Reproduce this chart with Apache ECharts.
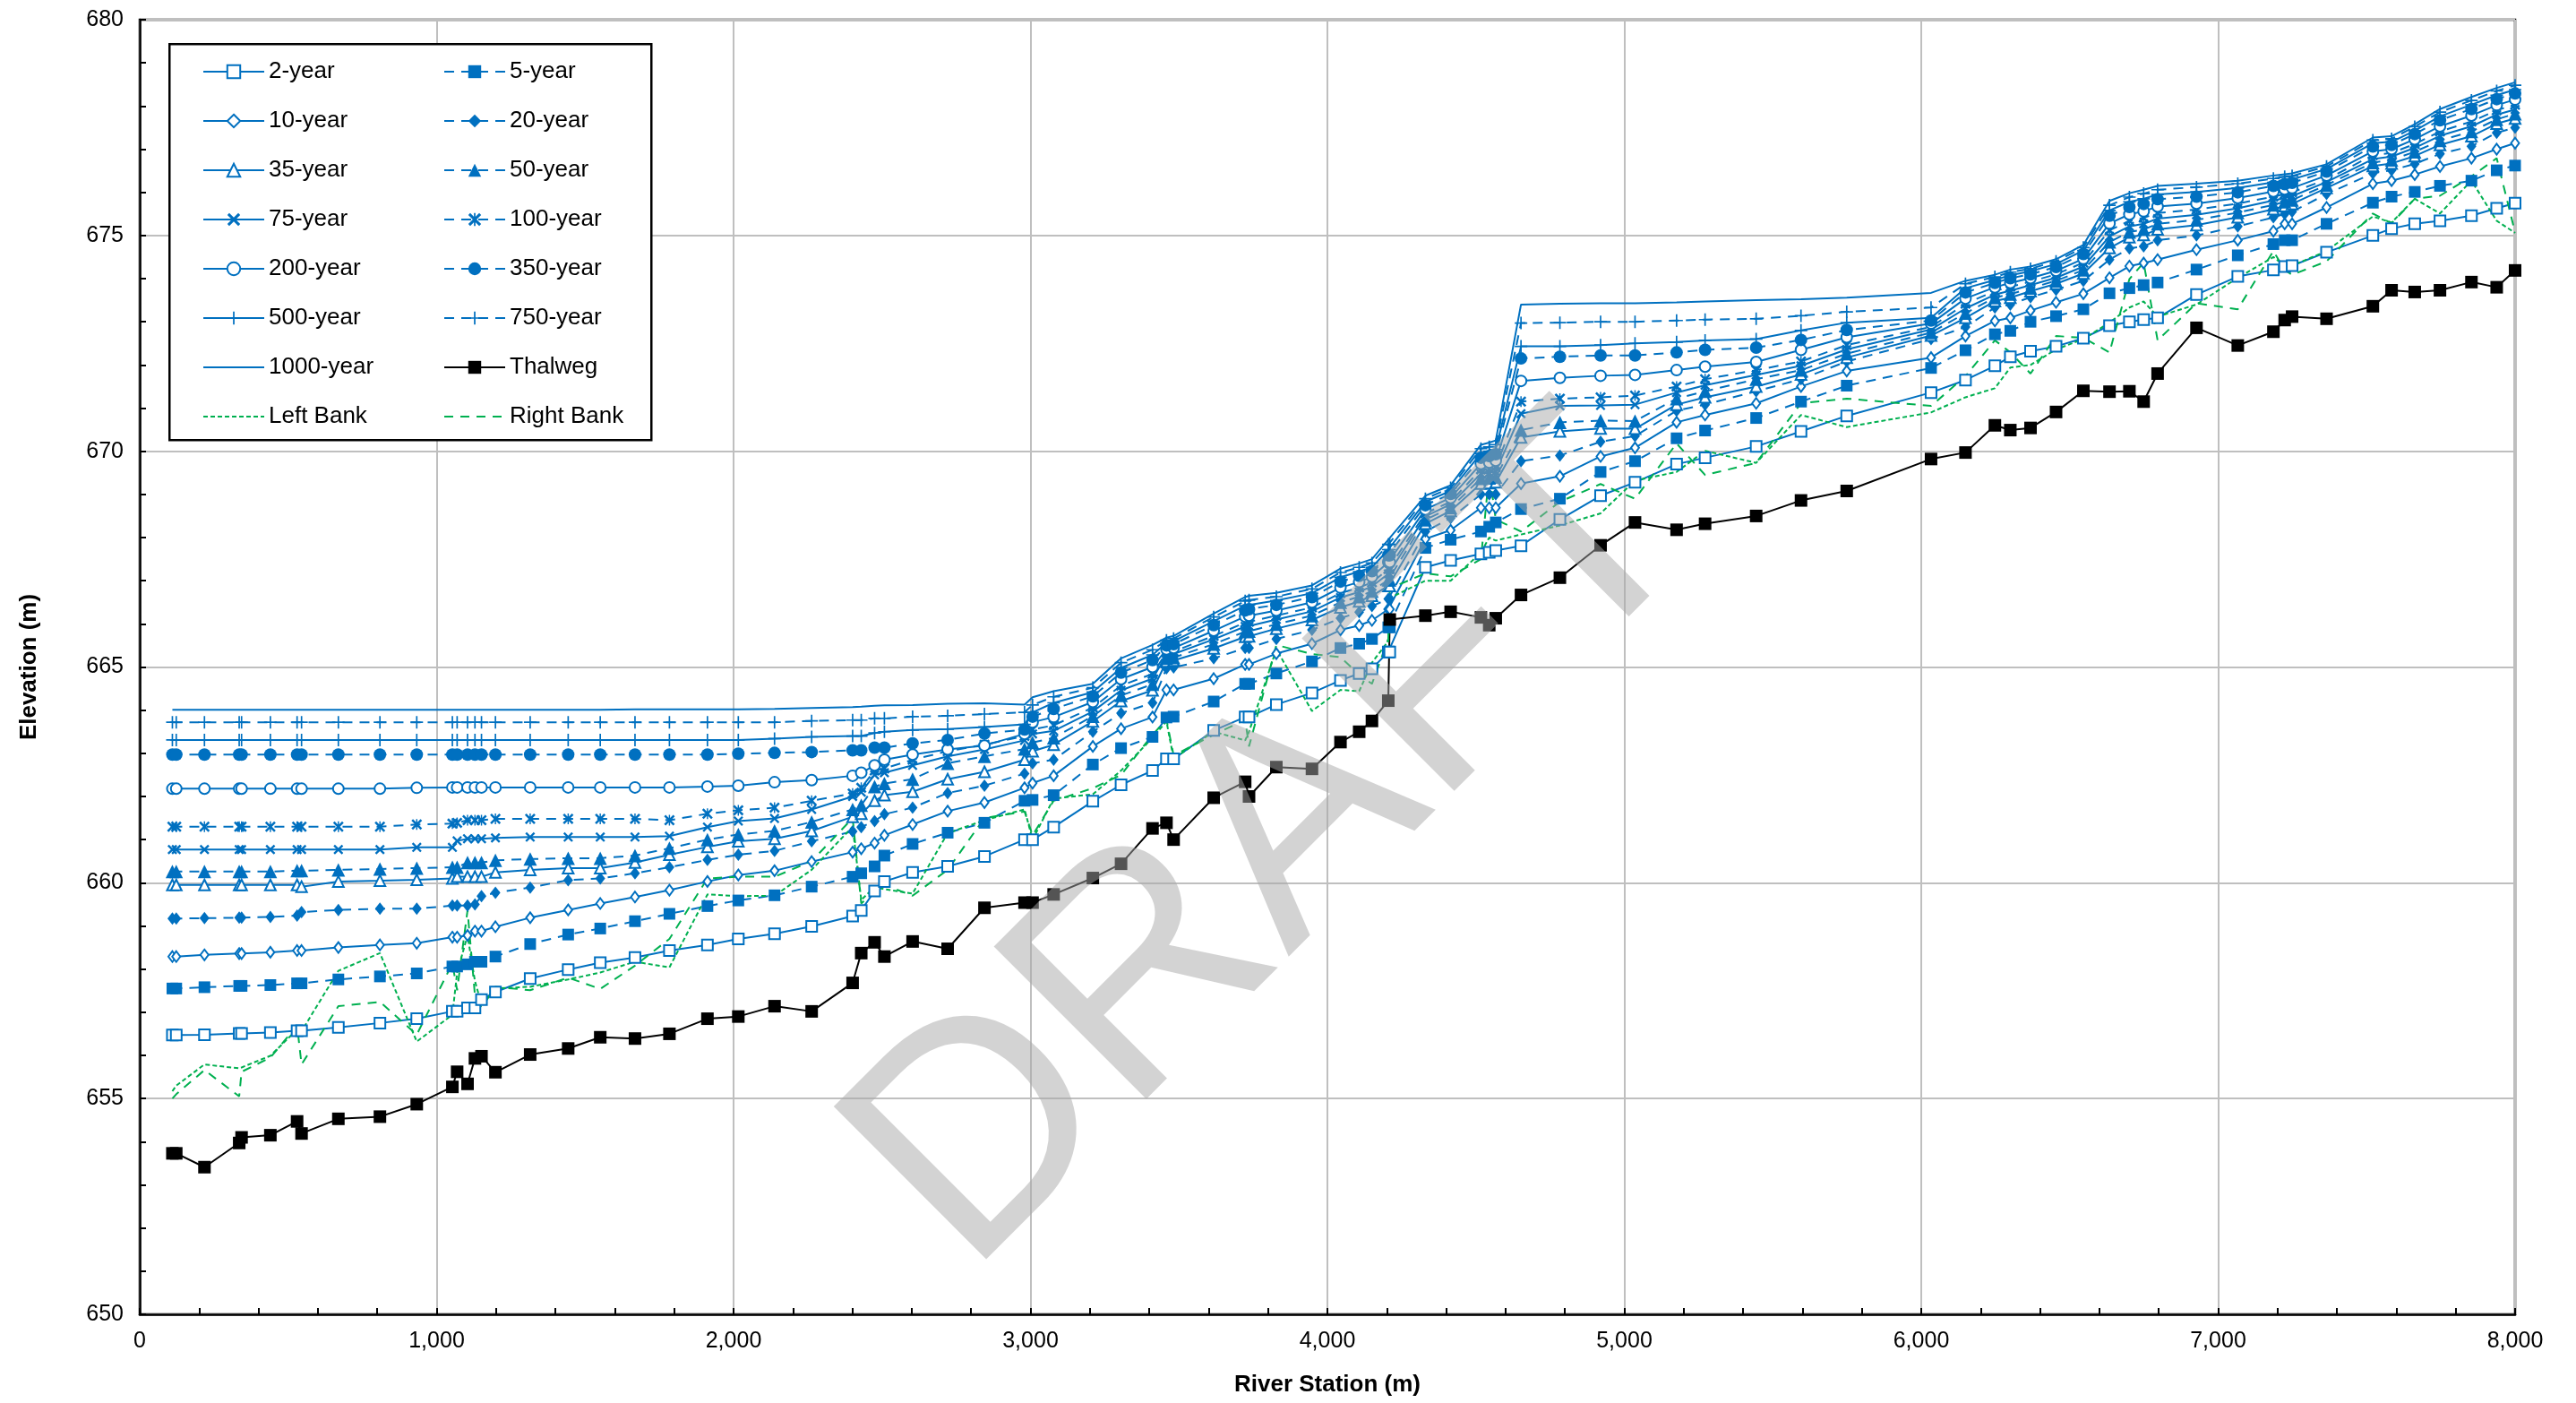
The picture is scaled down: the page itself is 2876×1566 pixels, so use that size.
<!DOCTYPE html>
<html><head><meta charset="utf-8">
<script src="https://cdn.jsdelivr.net/npm/echarts@6/dist/echarts.min.js"></script>
<style>html,body{margin:0;padding:0;background:#fff}#c{width:2876px;height:1566px}</style>
</head><body><div id="c"></div>
<script>
// ---------- DATA ----------
const xTickValues = [0,1000,2000,3000,4000,5000,6000,7000,8000];
const yTickValues = [650,655,660,665,670,675,680];

const stations = [110,123,218,335,343,440,530,545,669,809,933,1053,1069,1104,1129,1151,1198,1315,1443,1551,1668,1784,1912,2016,
2138,2263,2401,2430,2475,2508,2603,2721,2845,2980,3007,
3078,3210,3305,3411,3458,3482,3617,3723,3736,3828,3948,4044,4107,4150,4205,4210,4330,
4415,4517,4545,4567,4652,4783,4920,5036,5176,5272,5444,5595,5749,
6033,6149,6248,6300,6368,6454,6546,6634,6701,6749,6796,6927,7066,7186,7224,7249,7365,7521,7584,7662,7747,7853,7938,8000];

const thalweg = [653.73,653.73,653.41,653.97,654.10,654.15,654.47,654.19,654.53,654.58,654.87,655.27,655.62,655.34,655.93,655.98,655.61,656.02,656.16,656.42,656.39,656.50,656.85,656.90,
657.14,657.02,657.68,658.37,658.62,658.29,658.64,658.47,659.42,659.54,659.54,
659.73,660.11,660.44,661.26,661.39,661.00,661.97,662.34,662.00,662.68,662.64,663.26,663.50,663.75,664.22,666.10,666.19,
666.28,666.15,665.97,666.13,666.67,667.07,667.82,668.35,668.18,668.32,668.50,668.86,669.08,
669.82,669.97,670.60,670.49,670.54,670.91,671.40,671.38,671.39,671.15,671.80,672.86,672.45,672.77,673.04,673.12,673.07,673.36,673.73,673.69,673.73,673.92,673.80,674.19];

const y2 = [656.47,656.47,656.48,656.51,656.51,656.53,656.57,656.57,656.65,656.75,656.85,657.02,657.02,657.10,657.10,657.29,657.47,657.78,657.99,658.15,658.27,658.43,658.56,658.70,
658.82,658.99,659.23,659.36,659.81,660.03,660.24,660.38,660.61,661.00,661.00,
661.29,661.89,662.27,662.60,662.87,662.87,663.53,663.84,663.84,664.13,664.40,664.69,664.85,664.96,665.35,665.35,667.31,
667.47,667.62,667.66,667.70,667.81,668.42,668.97,669.28,669.70,669.85,670.11,670.46,670.82,
671.36,671.65,671.98,672.19,672.32,672.43,672.62,672.91,673.00,673.05,673.09,673.63,674.05,674.20,674.28,674.30,674.61,675.00,675.16,675.27,675.34,675.46,675.63,675.75];

const y5 = [657.55,657.55,657.58,657.61,657.61,657.63,657.67,657.67,657.76,657.83,657.90,658.06,658.06,658.11,658.17,658.17,658.29,658.58,658.80,658.94,659.11,659.28,659.46,659.59,
659.71,659.91,660.14,660.22,660.38,660.63,660.90,661.16,661.39,661.90,661.92,
662.03,662.74,663.12,663.38,663.83,663.85,664.20,664.61,664.61,664.85,665.13,665.44,665.54,665.65,665.92,665.92,667.76,
667.95,668.14,668.25,668.35,668.66,668.90,669.52,669.77,670.30,670.48,670.77,671.15,671.52,
671.93,672.34,672.71,672.79,673.00,673.13,673.29,673.66,673.78,673.85,673.91,674.21,674.54,674.80,674.89,674.89,675.27,675.76,675.90,676.01,676.15,676.27,676.51,676.62];

const y10 = [658.29,658.29,658.33,658.36,658.36,658.39,658.43,658.43,658.50,658.56,658.60,658.74,658.74,658.78,658.88,658.88,658.98,659.19,659.37,659.52,659.67,659.83,660.03,660.18,
660.28,660.49,660.71,660.79,660.92,661.10,661.35,661.66,661.86,662.20,662.31,
662.48,663.16,663.57,663.84,664.47,664.47,664.73,665.06,665.06,665.31,665.54,665.86,665.96,666.08,666.34,666.34,667.97,
668.17,668.69,668.69,668.69,669.25,669.42,669.88,670.08,670.67,670.84,671.11,671.50,671.86,
672.17,672.67,673.02,673.09,673.26,673.45,673.65,674.02,674.29,674.36,674.44,674.67,674.89,675.10,675.27,675.27,675.65,676.20,676.27,676.41,676.60,676.79,677.00,677.14];

const y20 = [659.17,659.17,659.18,659.19,659.19,659.21,659.24,659.32,659.37,659.40,659.40,659.47,659.47,659.47,659.50,659.69,659.77,659.89,660.06,660.10,660.22,660.36,660.53,660.65,
660.74,660.96,661.19,661.29,661.43,661.59,661.74,662.08,662.25,662.53,662.77,
662.85,663.50,663.93,664.17,664.97,664.99,665.20,665.44,665.44,665.65,665.86,666.13,666.27,666.41,666.58,666.58,668.14,
668.45,669.00,669.00,669.00,669.77,669.90,670.22,670.35,670.94,671.08,671.39,671.67,672.08,
672.60,672.88,673.33,673.40,673.57,673.74,673.95,674.44,674.70,674.75,674.89,675.00,675.21,675.42,675.50,675.55,675.96,676.44,676.51,676.66,676.89,677.07,677.38,677.50];

const y35 = [659.95,659.95,659.95,659.95,659.95,659.95,659.95,659.91,660.03,660.05,660.07,660.10,660.14,660.14,660.14,660.14,660.24,660.30,660.34,660.34,660.47,660.65,660.83,660.96,
661.02,661.20,661.53,661.60,661.90,662.03,662.11,662.40,662.57,662.85,663.05,
663.20,663.74,664.21,664.46,665.13,665.15,665.43,665.70,665.71,665.89,666.09,666.38,666.52,666.65,666.88,666.88,668.32,
668.62,669.25,669.26,669.28,670.32,670.46,670.53,670.52,671.08,671.25,671.50,671.78,672.17,
672.68,673.09,673.48,673.56,673.71,673.88,674.12,674.71,674.96,675.01,675.14,675.24,675.42,675.61,675.68,675.73,676.10,676.61,676.67,676.84,677.10,677.30,677.59,677.71];

const y50 = [660.26,660.26,660.26,660.26,660.26,660.26,660.28,660.28,660.30,660.32,660.34,660.36,660.36,660.47,660.47,660.47,660.52,660.55,660.57,660.57,660.63,660.80,661.00,661.12,
661.20,661.41,661.70,661.80,662.23,662.30,662.40,662.77,662.93,663.10,663.25,
663.36,663.86,664.34,664.60,665.20,665.22,665.53,665.82,665.83,665.99,666.19,666.50,666.63,666.76,667.02,667.02,668.41,
668.69,669.37,669.38,669.40,670.49,670.67,670.71,670.70,671.22,671.39,671.67,671.88,672.26,
672.75,673.20,673.56,673.64,673.78,673.95,674.20,674.85,675.08,675.14,675.27,675.36,675.53,675.71,675.78,675.82,676.17,676.69,676.75,676.94,677.20,677.41,677.69,677.82];

const y75 = [660.77,660.77,660.77,660.77,660.77,660.77,660.77,660.77,660.77,660.77,660.82,660.82,660.97,661.02,661.02,661.02,661.04,661.06,661.06,661.06,661.06,661.08,661.29,661.43,
661.49,661.70,662.00,662.10,662.50,662.55,662.72,662.93,663.09,663.30,663.45,
663.52,663.97,664.46,664.73,665.27,665.30,665.64,665.94,665.95,666.10,666.29,666.61,666.74,666.87,667.16,667.16,668.49,
668.77,669.48,669.50,669.53,670.87,671.05,671.06,671.08,671.36,671.53,671.77,671.98,672.36,
672.82,673.31,673.63,673.72,673.85,674.02,674.28,674.98,675.21,675.27,675.39,675.48,675.63,675.81,675.87,675.91,676.24,676.77,676.83,677.03,677.31,677.53,677.80,677.92];

const y100 = [661.30,661.30,661.30,661.30,661.30,661.30,661.30,661.30,661.30,661.30,661.35,661.37,661.39,661.45,661.45,661.45,661.48,661.48,661.48,661.48,661.48,661.45,661.60,661.68,
661.74,661.90,662.07,662.20,662.60,662.65,662.85,663.05,663.20,663.40,663.55,
663.65,664.06,664.57,664.84,665.33,665.36,665.72,666.03,666.05,666.19,666.38,666.71,666.84,666.96,667.27,667.27,668.56,
668.83,669.58,669.60,669.63,671.15,671.22,671.25,671.29,671.50,671.67,671.88,672.08,672.46,
672.88,673.42,673.71,673.81,673.93,674.10,674.37,675.12,675.34,675.41,675.52,675.60,675.74,675.90,675.96,676.00,676.30,676.86,676.91,677.12,677.41,677.64,677.90,678.03];

const y200 = [662.18,662.18,662.18,662.18,662.18,662.18,662.18,662.18,662.18,662.18,662.20,662.21,662.21,662.21,662.21,662.21,662.21,662.21,662.21,662.21,662.21,662.21,662.23,662.25,
662.33,662.38,662.48,662.55,662.72,662.85,662.97,663.09,663.18,663.45,663.72,
663.84,664.19,664.72,665.00,665.41,665.44,665.84,666.17,666.19,666.31,666.50,666.84,666.97,667.09,667.43,667.43,668.65,
668.92,669.71,669.74,669.78,671.63,671.70,671.75,671.77,671.88,671.96,672.07,672.35,672.64,
672.96,673.54,673.80,673.90,674.01,674.18,674.46,675.28,675.49,675.56,675.67,675.74,675.87,676.02,676.07,676.10,676.39,676.95,677.00,677.23,677.53,677.78,678.02,678.15];

const y350 = [662.97,662.97,662.97,662.97,662.97,662.97,662.97,662.97,662.97,662.97,662.97,662.97,662.97,662.97,662.97,662.97,662.97,662.97,662.97,662.97,662.97,662.97,662.97,662.99,
663.01,663.03,663.07,663.07,663.13,663.13,663.23,663.31,663.46,663.55,663.85,
664.03,664.32,664.87,665.16,665.50,665.53,665.97,666.31,666.34,666.44,666.62,666.98,667.11,667.22,667.59,667.59,668.75,
669.01,669.85,669.89,669.93,672.15,672.19,672.22,672.22,672.29,672.35,672.40,672.58,672.81,
673.03,673.68,673.90,674.01,674.10,674.27,674.57,675.46,675.66,675.73,675.84,675.90,676.00,676.15,676.19,676.22,676.48,677.06,677.10,677.35,677.67,677.93,678.16,678.29];

const y500 = [663.31,663.31,663.31,663.31,663.31,663.31,663.31,663.31,663.31,663.31,663.31,663.31,663.31,663.31,663.31,663.31,663.31,663.31,663.31,663.31,663.31,663.31,663.31,663.31,
663.34,663.38,663.40,663.40,663.47,663.50,663.54,663.56,663.61,663.67,663.95,
664.17,664.42,664.98,665.28,665.56,665.60,666.06,666.42,666.44,666.54,666.71,667.08,667.21,667.31,667.72,667.72,668.83,
669.08,669.95,670.00,670.04,672.43,672.43,672.46,672.50,672.53,672.57,672.60,672.80,672.98,
673.09,673.78,673.97,674.08,674.17,674.34,674.65,675.58,675.78,675.85,675.95,676.01,676.10,676.23,676.27,676.30,676.54,677.14,677.17,677.43,677.76,678.03,678.25,678.38];

const y750 = [663.72,663.72,663.72,663.72,663.72,663.72,663.72,663.72,663.72,663.72,663.72,663.72,663.72,663.72,663.72,663.72,663.72,663.72,663.72,663.72,663.72,663.72,663.72,663.72,
663.72,663.75,663.77,663.77,663.81,663.81,663.85,663.87,663.91,663.95,664.12,
664.31,664.52,665.10,665.40,665.62,665.66,666.16,666.53,666.55,666.63,666.81,667.19,667.31,667.41,667.84,667.84,668.90,
669.15,670.06,670.10,670.15,672.97,672.98,673.00,673.00,673.03,673.05,673.07,673.14,673.23,
673.33,673.88,674.04,674.15,674.23,674.40,674.72,675.70,675.89,675.97,676.06,676.12,676.20,676.32,676.36,676.38,676.60,677.21,677.24,677.52,677.86,678.13,678.35,678.48];

const y1000 = [664.01,664.01,664.01,664.01,664.01,664.01,664.01,664.01,664.01,664.01,664.01,664.01,664.01,664.01,664.01,664.01,664.01,664.01,664.01,664.01,664.02,664.02,664.02,664.02,
664.03,664.05,664.07,664.08,664.10,664.11,664.12,664.15,664.16,664.13,664.30,
664.44,664.61,665.20,665.51,665.68,665.72,666.24,666.62,666.65,666.72,666.89,667.28,667.40,667.50,667.95,667.97,668.97,
669.21,670.15,670.20,670.25,673.40,673.42,673.43,673.43,673.45,673.47,673.50,673.52,673.56,
673.67,673.95,674.09,674.21,674.28,674.45,674.78,675.80,675.98,676.06,676.15,676.20,676.27,676.39,676.42,676.44,676.65,677.27,677.30,677.58,677.93,678.21,678.42,678.55];

const leftBank = [655.17,655.30,655.79,655.70,655.72,655.99,656.60,656.56,657.96,658.37,656.32,656.94,657.92,658.78,657.72,657.18,657.55,657.59,657.76,657.92,658.17,658.04,659.73,659.69,
659.70,660.30,661.30,659.60,659.90,659.85,659.75,661.15,661.45,661.70,661.00,
661.95,662.05,662.60,663.36,663.74,662.88,663.50,663.30,663.50,665.41,663.98,664.47,664.44,665.10,665.60,666.60,667.00,
667.00,667.65,668.00,667.93,668.07,668.28,668.56,669.32,669.52,670.01,669.73,670.84,670.56,
670.90,671.25,671.46,671.94,672.00,672.36,672.60,672.98,673.33,673.47,673.12,673.40,674.02,674.50,674.30,674.30,674.64,675.44,675.30,675.85,675.51,676.27,675.34,675.06];

const rightBank = [655.00,655.10,655.66,655.05,655.62,655.95,656.69,655.79,657.14,657.24,656.48,658.13,657.51,659.36,657.39,657.10,657.59,657.51,657.80,657.54,658.08,658.70,660.10,660.14,
660.14,660.50,661.50,659.52,659.80,659.95,659.70,660.30,661.50,661.65,661.10,
661.90,662.19,662.50,663.43,663.78,662.95,663.43,663.78,663.16,665.51,665.30,665.23,664.82,664.61,665.65,666.82,667.17,
667.10,667.50,669.50,668.42,668.14,668.83,669.24,668.90,670.18,669.45,669.73,671.11,671.22,
671.05,671.74,672.57,672.29,671.80,672.67,672.63,672.29,673.99,674.37,672.57,673.43,673.29,674.64,674.20,674.09,674.40,675.51,675.28,675.85,675.92,676.37,676.79,675.07];

// ---------- STYLE ----------
const BLUE = '#0070C0', GREEN = '#00B050';
const FONT = '"Liberation Sans", Arial, sans-serif';
const DASH = [11, 8];
const LB_DASH = [5, 3], RB_DASH = [10, 8];
const X_PATH = 'path://M1.5,0 L5,3.5 L8.5,0 L10,1.5 L6.5,5 L10,8.5 L8.5,10 L5,6.5 L1.5,10 L0,8.5 L3.5,5 L0,1.5 Z';
const AST_PATH = 'path://M1.5,0 L5,3.5 L8.5,0 L10,1.5 L6.5,5 L10,8.5 L8.5,10 L5,6.5 L1.5,10 L0,8.5 L3.5,5 L0,1.5 Z M4.4,0 L5.6,0 L5.6,10 L4.4,10 Z';
const PLUS_PATH = 'path://M4.4,0 L5.6,0 L5.6,4.4 L10,4.4 L10,5.6 L5.6,5.6 L5.6,10 L4.4,10 L4.4,5.6 L0,5.6 L0,4.4 L4.4,4.4 Z';

function pairs(vals) { return stations.map((s, i) => [s, vals[i]]); }

function prof(name, vals, symbol, size, dashed, hollow) {
  return {
    name, type: 'line', data: pairs(vals), symbol, symbolSize: size, showAllSymbol: true,
    lineStyle: { color: BLUE, width: 2, type: dashed ? DASH : 'solid' },
    itemStyle: { color: BLUE, borderColor: BLUE, borderWidth: hollow ? 1.6 : 0 },
    emphasis: { disabled: true }, silent: true
  };
}

const series = [
  prof('2-year', y2, 'emptyRect', 12, false, true),
  prof('5-year', y5, 'rect', 13, true, false),
  prof('10-year', y10, 'emptyDiamond', [9, 12], false, true),
  prof('20-year', y20, 'diamond', [11, 14], true, false),
  prof('35-year', y35, 'emptyTriangle', 12, false, true),
  prof('50-year', y50, 'triangle', 15, true, false),
  prof('75-year', y75, X_PATH, 11, false, false),
  prof('100-year', y100, AST_PATH, 12, true, false),
  prof('200-year', y200, 'emptyCircle', 12, false, true),
  prof('350-year', y350, 'circle', 14, true, false),
  prof('500-year', y500, PLUS_PATH, 14, false, false),
  prof('750-year', y750, PLUS_PATH, 14, true, false),
  prof('1000-year', y1000, 'none', 0, false, false),
  { name: 'Thalweg', type: 'line', data: pairs(thalweg), symbol: 'rect', symbolSize: 14, showAllSymbol: true,
    lineStyle: { color: '#000', width: 2 }, itemStyle: { color: '#000' }, emphasis: { disabled: true }, silent: true },
  { name: 'Left Bank', type: 'line', data: pairs(leftBank), symbol: 'none',
    lineStyle: { color: GREEN, width: 2, type: LB_DASH }, itemStyle: { color: GREEN }, emphasis: { disabled: true }, silent: true },
  { name: 'Right Bank', type: 'line', data: pairs(rightBank), symbol: 'none',
    lineStyle: { color: GREEN, width: 2, type: RB_DASH }, itemStyle: { color: GREEN }, emphasis: { disabled: true }, silent: true }
];

const legendCol1 = ['2-year','10-year','35-year','75-year','200-year','500-year','1000-year','Left Bank'];
const legendCol2 = ['5-year','20-year','50-year','100-year','350-year','750-year','Thalweg','Right Bank'];
const legendLineOnly = {
  '1000-year': { color: BLUE, width: 2, type: 'solid' },
  'Left Bank': { color: GREEN, width: 2, type: LB_DASH },
  'Right Bank': { color: GREEN, width: 2, type: RB_DASH }
};

function legendCfg(left, names) {
  return {
    orient: 'vertical', left, top: 60, itemWidth: 68, itemHeight: 18, itemGap: 25,
    selectedMode: false,
    data: names.map(n => legendLineOnly[n]
      ? { name: n, itemStyle: { opacity: 0 }, lineStyle: legendLineOnly[n] } : n),
    textStyle: { fontFamily: FONT, fontSize: 26, color: '#000', lineHeight: 30 }
  };
}

const fmtThousands = v => String(v).replace(/\B(?=(\d{3})+(?!\d))/g, ',');

const chart = echarts.init(document.getElementById('c'), null, { renderer: 'canvas' });
chart.setOption({
  animation: false,
  backgroundColor: '#fff',
  grid: { left: 156, right: 68, top: 22, bottom: 99, show: true, borderColor: '#000', borderWidth: 2.5, backgroundColor: 'transparent' },
  xAxis: {
    type: 'value', min: xTickValues[0], max: xTickValues[xTickValues.length - 1], interval: xTickValues[1] - xTickValues[0],
    name: 'River Station (m)', nameLocation: 'middle', nameGap: 66,
    nameTextStyle: { fontFamily: FONT, fontSize: 26, fontWeight: 'bold', color: '#000' },
    axisLine: { show: true, onZero: false, lineStyle: { color: '#000', width: 2.5 } },
    axisTick: { show: true, inside: true, length: 7, lineStyle: { color: '#000', width: 2 } },
    minorTick: { show: true, splitNumber: 5, length: 7, lineStyle: { color: '#000', width: 2 } },
    axisLabel: { fontFamily: FONT, fontSize: 25, color: '#000', margin: 18, formatter: fmtThousands },
    splitLine: { show: true, lineStyle: { color: '#BFBFBF', width: 2 } }
  },
  yAxis: {
    type: 'value', min: yTickValues[0], max: yTickValues[yTickValues.length - 1], interval: yTickValues[1] - yTickValues[0],
    name: 'Elevation (m)', nameLocation: 'middle', nameGap: 110, nameRotate: 90,
    nameTextStyle: { fontFamily: FONT, fontSize: 26, fontWeight: 'bold', color: '#000' },
    axisLine: { show: true, onZero: false, lineStyle: { color: '#000', width: 2.5 } },
    axisTick: { show: true, inside: true, length: 7, lineStyle: { color: '#000', width: 2 } },
    minorTick: { show: true, splitNumber: 5, length: 7, lineStyle: { color: '#000', width: 2 } },
    axisLabel: { fontFamily: FONT, fontSize: 25, color: '#000', margin: 18 },
    splitLine: { show: true, lineStyle: { color: '#BFBFBF', width: 2 } }
  },
  legend: [legendCfg(221, legendCol1), legendCfg(490, legendCol2)],
  graphic: [
    { type: 'rect', left: 188, top: 48, z: 3, silent: true,
      shape: { width: 538, height: 442 },
      style: { fill: '#fff', stroke: '#000', lineWidth: 2.5 } },
    { type: 'text', x: 1425, y: 945, rotation: 45 * Math.PI / 180, z: 50, silent: true,
      style: { text: 'DRAFT', font: 'normal 350px "Liberation Sans", Arial, sans-serif',
               fill: 'rgba(168,168,168,0.5)', align: 'center', verticalAlign: 'middle' } }
  ],
  series
});
</script>
</body></html>
